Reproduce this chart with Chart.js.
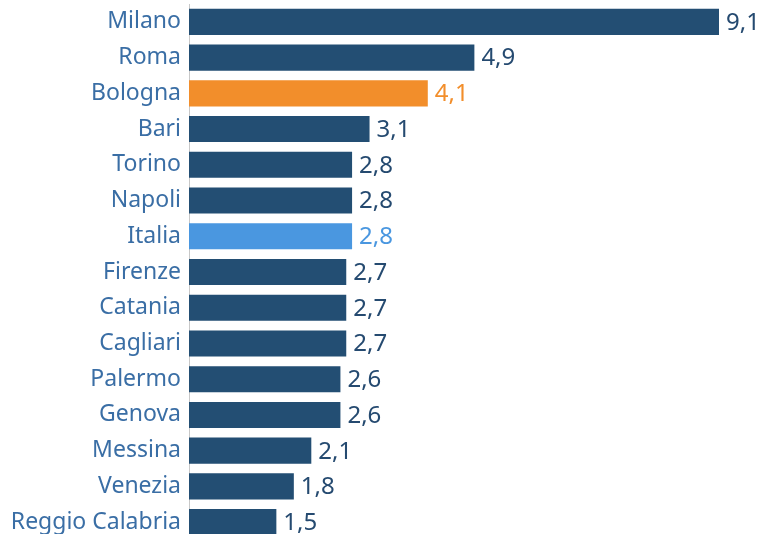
<!DOCTYPE html>
<html>
<head>
<meta charset="utf-8">
<script src="https://cdn.jsdelivr.net/npm/chart.js@4/dist/chart.umd.min.js"></script>
<style>
  html, body { margin: 0; padding: 0; background: #fff; overflow: hidden; }
  #wrap { position: relative; width: 764px; height: 540px; }
</style>
</head>
<body>
<div id="wrap"><canvas id="c"></canvas></div>
<script>
// ── data ──
const cities = ['Milano', 'Roma', 'Bologna', 'Bari', 'Torino', 'Napoli', 'Italia', 'Firenze',
  'Catania', 'Cagliari', 'Palermo', 'Genova', 'Messina', 'Venezia', 'Reggio Calabria']
const values = [9.1, 4.9, 4.1, 3.1, 2.8, 2.8, 2.8, 2.7, 2.7, 2.7, 2.6, 2.6, 2.1, 1.8, 1.5]

const NAVY = '#234e73', ORANGE = '#f28e2b', LIGHT = '#4a97e0'
const barColor = cities.map(c => c === 'Bologna' ? ORANGE : c === 'Italia' ? LIGHT : NAVY)
const textColor = cities.map(c => c === 'Bologna' ? ORANGE : c === 'Italia' ? LIGHT : '#254a70')

const FONT = '"Noto Sans", "Open Sans", sans-serif'
const SIZE = 23

const valueLabels = {
  id: 'valueLabels',
  afterDatasetsDraw(chart) {
    const ctx = chart.ctx
    const meta = chart.getDatasetMeta(0)
    ctx.save()
    ctx.font = '24px ' + FONT
    ctx.textBaseline = 'middle'
    ctx.textAlign = 'left'
    meta.data.forEach((bar, i) => {
      ctx.fillStyle = textColor[i]
      ctx.fillText(values[i].toFixed(1).replace('.', ','), bar.x + 7, bar.y + 1)
    })
    ctx.restore()
  }
}

new Chart(document.getElementById('c'), {
  type: 'bar',
  data: {
    labels: cities,
    datasets: [{
      data: values,
      backgroundColor: barColor,
      borderWidth: 0,
      categoryPercentage: 0.73,
      barPercentage: 1,
    }]
  },
  options: {
    indexAxis: 'y',
    responsive: true, maintainAspectRatio: false,
    animation: false,
    layout: { autoPadding: false, padding: { top: 4, right: 45, bottom: 0, left: 0 } },
    plugins: { legend: { display: false }, tooltip: { enabled: false } },
    scales: {
      x: { min: 0, max: 9.1, display: false },
      y: {
        afterFit: s => { s.width = 189; s.paddingTop = 0; s.paddingBottom = 0 },
        grid: { display: false, drawTicks: false },
        border: { display: true, color: '#c8c8c8', dash: [3, 3], width: 1 },
        ticks: { color: '#3a6ea5', font: { family: FONT, size: SIZE }, padding: 8 },
      },
    },
  },
  plugins: [valueLabels],
})
</script>
</body>
</html>
